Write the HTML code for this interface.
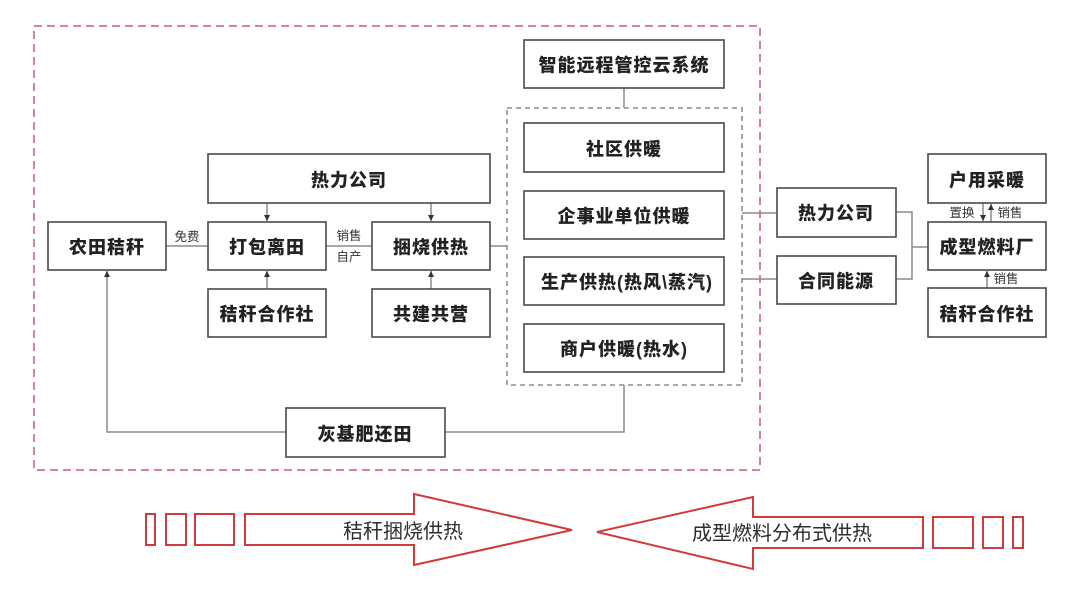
<!DOCTYPE html>
<html><head><meta charset="utf-8"><style>
html,body{margin:0;padding:0;background:#fff;}
svg{display:block;}
text{font-family:"Liberation Sans","Noto Sans CJK SC",sans-serif;}
.b{font-size:18px;font-weight:900;fill:#222;letter-spacing:1px;}
.s{font-size:12.5px;fill:#333;}
.box{fill:#fff;stroke:#4a4a4a;stroke-width:1.6;}
.ln{stroke:#8a8a8a;stroke-width:1.5;fill:none;}
</style></head><body>
<svg width="1080" height="598" viewBox="0 0 1080 598" xmlns="http://www.w3.org/2000/svg">
<defs>
<marker id="ah" markerWidth="8" markerHeight="8" refX="6" refY="4" orient="auto" markerUnits="userSpaceOnUse">
<path d="M0,1 L6,4 L0,7 Z" fill="#333"/>
</marker>
</defs>
<!-- red dashed outer box -->
<rect x="34" y="26" width="726" height="444" fill="none" stroke="#d25a68" stroke-width="1.5" stroke-dasharray="8,5"/>
<!-- gray dashed box -->
<rect x="507" y="108" width="235" height="277" fill="none" stroke="#777" stroke-width="1.3" stroke-dasharray="5,4"/>

<!-- connectors -->
<line class="ln" x1="624" y1="88" x2="624" y2="108"/>
<line class="ln" x1="166" y1="246" x2="208" y2="246"/>
<line class="ln" x1="326" y1="246" x2="372" y2="246"/>
<line class="ln" x1="490" y1="246" x2="507" y2="246"/>
<line class="ln" x1="267" y1="203" x2="267" y2="221" marker-end="url(#ah)"/>
<line class="ln" x1="431" y1="203" x2="431" y2="221" marker-end="url(#ah)"/>
<line class="ln" x1="267" y1="289" x2="267" y2="271" marker-end="url(#ah)"/>
<line class="ln" x1="431" y1="289" x2="431" y2="271" marker-end="url(#ah)"/>
<polyline class="ln" points="286,432 107,432 107,271" marker-end="url(#ah)"/>
<polyline class="ln" points="445,432 624,432 624,385"/>
<line class="ln" x1="742" y1="213" x2="777" y2="213"/>
<line class="ln" x1="742" y1="279" x2="777" y2="279"/>
<polyline class="ln" points="896,212 912,212 912,279 896,279"/>
<line class="ln" x1="912" y1="247" x2="928" y2="247"/>
<line class="ln" x1="983" y1="203" x2="983" y2="221" marker-end="url(#ah)"/>
<line class="ln" x1="991" y1="222" x2="991" y2="204" marker-end="url(#ah)"/>
<line class="ln" x1="987" y1="288" x2="987" y2="271" marker-end="url(#ah)"/>

<!-- boxes -->
<rect class="box" x="208" y="154" width="282" height="49"/>
<text class="b" x="349" y="180.5" text-anchor="middle" dominant-baseline="central">热力公司</text>
<rect class="box" x="48" y="222" width="118" height="48"/>
<text class="b" x="107" y="247.5" text-anchor="middle" dominant-baseline="central">农田秸秆</text>
<rect class="box" x="208" y="222" width="118" height="48"/>
<text class="b" x="267" y="247.5" text-anchor="middle" dominant-baseline="central">打包离田</text>
<rect class="box" x="372" y="222" width="118" height="48"/>
<text class="b" x="431" y="247.5" text-anchor="middle" dominant-baseline="central">捆烧供热</text>
<rect class="box" x="208" y="289" width="118" height="48"/>
<text class="b" x="267" y="314.5" text-anchor="middle" dominant-baseline="central">秸秆合作社</text>
<rect class="box" x="372" y="289" width="118" height="48"/>
<text class="b" x="431" y="314.5" text-anchor="middle" dominant-baseline="central">共建共营</text>

<rect class="box" x="524" y="40" width="200" height="48"/>
<text class="b" x="624" y="65.5" text-anchor="middle" dominant-baseline="central">智能远程管控云系统</text>
<rect class="box" x="524" y="123" width="200" height="49"/>
<text class="b" x="624" y="149.5" text-anchor="middle" dominant-baseline="central">社区供暖</text>
<rect class="box" x="524" y="191" width="200" height="48"/>
<text class="b" x="624" y="216.5" text-anchor="middle" dominant-baseline="central">企事业单位供暖</text>
<rect class="box" x="524" y="257" width="200" height="48"/>
<text class="b" x="627" y="282.5" text-anchor="middle" dominant-baseline="central">生产供热(热风\蒸汽)</text>
<rect class="box" x="524" y="324" width="200" height="48"/>
<text class="b" x="624" y="349.5" text-anchor="middle" dominant-baseline="central">商户供暖(热水)</text>

<rect class="box" x="286" y="408" width="159" height="49"/>
<text class="b" x="365" y="434.5" text-anchor="middle" dominant-baseline="central">灰基肥还田</text>

<rect class="box" x="777" y="188" width="119" height="49"/>
<text class="b" x="836" y="213.5" text-anchor="middle" dominant-baseline="central">热力公司</text>
<rect class="box" x="777" y="256" width="119" height="48"/>
<text class="b" x="836" y="281.5" text-anchor="middle" dominant-baseline="central">合同能源</text>
<rect class="box" x="928" y="154" width="118" height="49"/>
<text class="b" x="987" y="180.5" text-anchor="middle" dominant-baseline="central">户用采暖</text>
<rect class="box" x="928" y="222" width="118" height="48"/>
<text class="b" x="987" y="247.5" text-anchor="middle" dominant-baseline="central">成型燃料厂</text>
<rect class="box" x="928" y="288" width="118" height="49"/>
<text class="b" x="987" y="314.5" text-anchor="middle" dominant-baseline="central">秸秆合作社</text>

<!-- small labels -->
<text class="s" x="187" y="237" text-anchor="middle" dominant-baseline="central">免费</text>
<text class="s" x="349" y="236" text-anchor="middle" dominant-baseline="central">销售</text>
<text class="s" x="349" y="257" text-anchor="middle" dominant-baseline="central">自产</text>
<text class="s" x="962" y="213" text-anchor="middle" dominant-baseline="central">置换</text>
<text class="s" x="1010" y="213" text-anchor="middle" dominant-baseline="central">销售</text>
<text class="s" x="1006" y="279" text-anchor="middle" dominant-baseline="central">销售</text>

<!-- bottom arrows -->
<g fill="none" stroke="#d03a3a" stroke-width="2">
<rect x="146" y="514" width="9" height="31"/>
<rect x="166" y="514" width="20" height="31"/>
<rect x="195" y="514" width="39" height="31"/>
<polygon points="245,514 414,514 414,494 572,530 414,565 414,545 245,545"/>
<polygon points="923,517 753,517 753,497 597,532 753,569 753,548 923,548"/>
<rect x="933" y="517" width="40" height="31"/>
<rect x="983" y="517" width="20" height="31"/>
<rect x="1013" y="517" width="10" height="31"/>
</g>
<text x="403" y="532" text-anchor="middle" dominant-baseline="central" style="font-size:20px;fill:#2e2e2e;">秸秆捆烧供热</text>
<text x="782" y="534" text-anchor="middle" dominant-baseline="central" style="font-size:20px;fill:#2e2e2e;">成型燃料分布式供热</text>
</svg>
</body></html>
